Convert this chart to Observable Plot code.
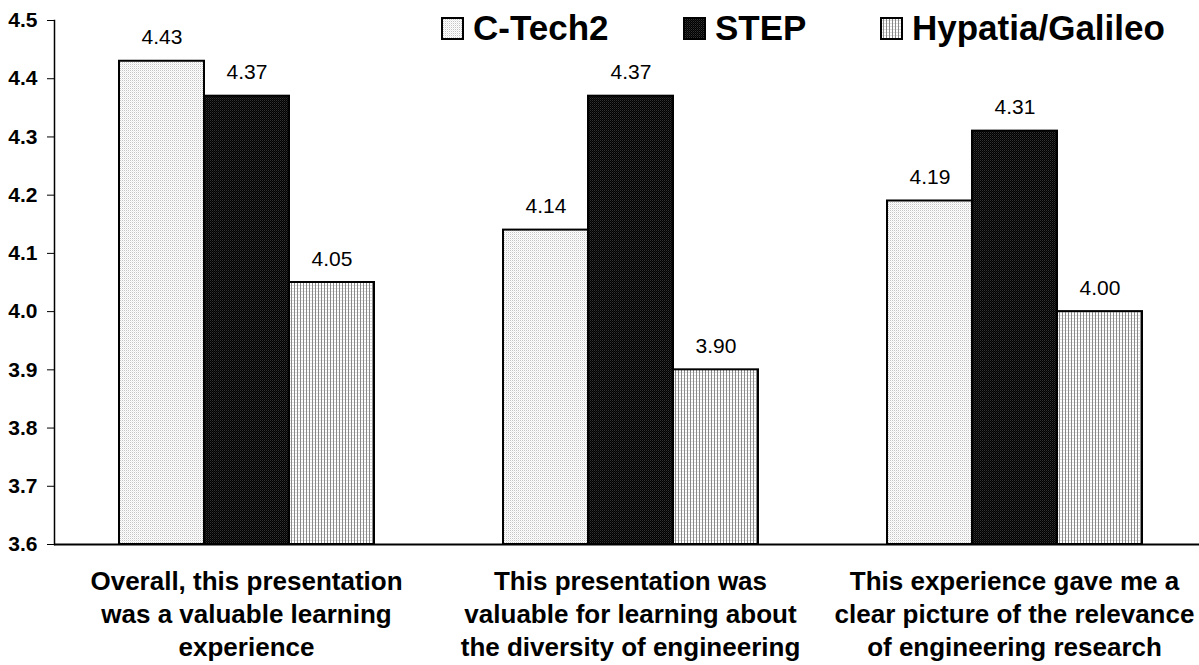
<!DOCTYPE html>
<html><head><meta charset="utf-8">
<script src="https://cdn.jsdelivr.net/npm/d3@7"></script>
<script src="https://cdn.jsdelivr.net/npm/@observablehq/plot@0.6"></script>
<style>
body{margin:0;background:#fff;font-family:"Liberation Sans",Arial,sans-serif}
#wrap{position:relative;width:1199px;height:665px;overflow:hidden}
#defs{position:absolute;width:0;height:0}
.item{position:absolute;top:14px;display:flex;align-items:center;font-weight:bold;font-size:35px;line-height:28px;color:#000;white-space:nowrap}
.item svg{margin-right:9px}
</style></head>
<body>
<svg id="defs" width="0" height="0">
  <defs>
    <pattern id="pat-ctech" patternUnits="userSpaceOnUse" width="2" height="2">
      <rect width="2" height="2" fill="#ffffff"/>
      <rect x="0" y="0" width="1" height="1" fill="#c4c4c4"/>
      <rect x="1" y="1" width="1" height="1" fill="#ebebeb"/>
    </pattern>
    <pattern id="pat-step" patternUnits="userSpaceOnUse" width="2" height="2">
      <rect width="2" height="2" fill="#000000"/>
      <rect x="0" y="0" width="1" height="1" fill="#333333"/>
      <rect x="1" y="1" width="1" height="1" fill="#1a1a1a"/>
    </pattern>
    <pattern id="pat-hyp" patternUnits="userSpaceOnUse" width="3" height="3">
      <rect width="3" height="3" fill="#ffffff"/>
      <rect x="0" y="0" width="3" height="1" fill="#dedede"/>
      <rect x="0" y="0" width="1" height="3" fill="#8a8a8a"/>
    </pattern>
  </defs>
</svg>
<div id="wrap"></div>
<script>
const series = ["C-Tech2", "STEP", "Hypatia/Galileo"];
const questions = [
  "Overall, this presentation was a valuable learning experience",
  "This presentation was valuable for learning about the diversity of engineering",
  "This experience gave me a clear picture of the relevance of engineering research"
];
const questionLines = [
  ["Overall, this presentation", "was a valuable learning", "experience"],
  ["This presentation was", "valuable for learning about", "the diversity of engineering"],
  ["This experience gave me a", "clear picture of the relevance", "of engineering research"]
];
const ctech2 = [4.43, 4.14, 4.19];
const step = [4.37, 4.37, 4.31];
const hypatia = [4.05, 3.90, 4.00];
const yTicks = [3.6, 3.7, 3.8, 3.9, 4.0, 4.1, 4.2, 4.3, 4.4, 4.5];
const yMin = 3.6, yMax = 4.5;
const patternIds = ["pat-ctech", "pat-step", "pat-hyp"];

const valuesBySeries = [ctech2, step, hypatia];
const data = [];
questions.forEach((q, qi) => {
  series.forEach((s, si) => {
    data.push({q, s, v: valuesBySeries[si][qi]});
  });
});
const labelOf = new Map(questions.map((q, i) => [q, questionLines[i].join("\n")]));

const chart = Plot.plot({
  width: 1199,
  height: 665,
  marginLeft: 54,
  marginRight: -7,
  marginTop: 20,
  marginBottom: 121,
  style: {fontFamily: "'Liberation Sans', Arial, sans-serif", background: "white", color: "black"},
  fx: {domain: questions, padding: 0, label: null},
  x: {domain: series, paddingInner: 0, paddingOuter: 0.745, axis: null},
  y: {domain: [yMin, yMax], label: null},
  color: {domain: series, range: patternIds.map(id => `url(#${id})`)},
  marks: [
    Plot.barY(data, {fx: "q", x: "s", y1: () => yMin, y2: "v", fill: "s", stroke: "black", strokeWidth: 2, inset: 0}),
    Plot.text(data, {fx: "q", x: "s", y: "v", text: d => d.v.toFixed(2), dy: -17, lineAnchor: "bottom", fontSize: 21, fill: "black"}),
    Plot.ruleY([yMin], {stroke: "black", strokeWidth: 2}),
    Plot.frame({anchor: "left", facetAnchor: "left", stroke: "black", strokeWidth: 1.5}),
    Plot.axisY({ticks: yTicks, tickFormat: d => d.toFixed(1), tickSize: 7, tickPadding: 10, fontSize: 21, fontWeight: "bold", label: null}),
    Plot.axisFx({anchor: "bottom", tickSize: 0, tickPadding: 22, fontSize: 26, fontWeight: "bold", lineHeight: 1.27, tickFormat: q => labelOf.get(q), label: null})
  ]
});

const wrap = document.getElementById("wrap");
wrap.appendChild(chart);

const legendLefts = [441, 683, 880];
series.forEach((s, i) => {
  const item = document.createElement("div");
  item.className = "item";
  item.style.left = legendLefts[i] + "px";
  item.innerHTML = `<svg width="23" height="23"><rect x="1" y="1" width="21" height="21" fill="url(#${patternIds[i]})" stroke="black" stroke-width="2"/></svg><span>${s}</span>`;
  wrap.appendChild(item);
});
</script>
</body></html>
